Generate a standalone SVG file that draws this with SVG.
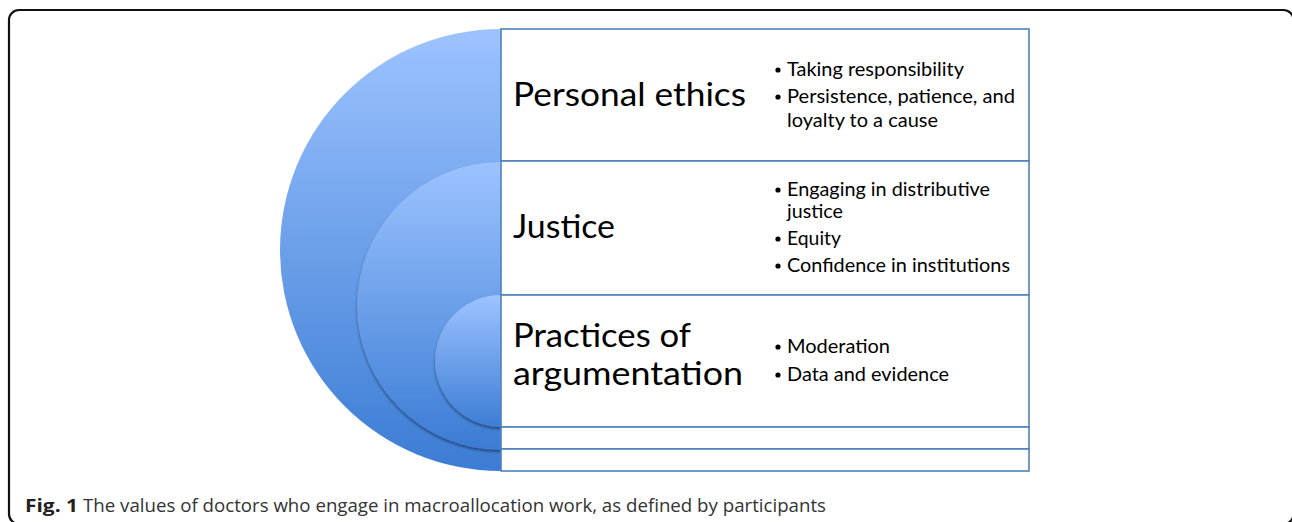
<svg xmlns="http://www.w3.org/2000/svg" width="1292" height="522" viewBox="0 0 1292 522">
<defs>
<linearGradient id="gOuter" x1="0" y1="0" x2="0" y2="1">
<stop offset="0" stop-color="#9dc3ff"/>
<stop offset="1" stop-color="#3b7cd4"/>
</linearGradient>
<linearGradient id="gMid" x1="0" y1="0" x2="0" y2="1">
<stop offset="0" stop-color="#9dc3ff"/>
<stop offset="1" stop-color="#3b7cd4"/>
</linearGradient>
<linearGradient id="gIn" x1="0" y1="0" x2="0" y2="1">
<stop offset="0" stop-color="#9dc3ff"/>
<stop offset="1" stop-color="#3d7dd5"/>
</linearGradient>
<filter id="sh" x="-20%" y="-20%" width="140%" height="140%">
<feGaussianBlur in="SourceAlpha" stdDeviation="1.5"/>
<feOffset dx="0" dy="1.5" result="b"/>
<feComponentTransfer><feFuncA type="linear" slope="0.45"/></feComponentTransfer>
<feMerge><feMergeNode/><feMergeNode in="SourceGraphic"/></feMerge>
</filter>
</defs>
<style>
.frame{fill:none;stroke:#111;stroke-width:2.2}
.box{fill:#fff;stroke:#4f81bd;stroke-width:1.6}
.big{font-family:Lato,"Liberation Sans",sans-serif;font-size:32px;fill:#000}
.bul{font-family:Lato,"Liberation Sans",sans-serif;font-size:19px;fill:#000}
.cap{font-family:"Open Sans","Liberation Sans",sans-serif;font-size:18px;fill:#333}
.capb{font-family:"Open Sans","Liberation Sans",sans-serif;font-size:18px;font-weight:bold;fill:#222}
.dot{fill:#000}
</style>
<rect class="frame" x="9" y="10" width="1284.5" height="514" rx="10"/>

<g id="circle-outer"><path d="M501,29 A221,221 0 0 0 501,471 Z" fill="url(#gOuter)"/></g>
<g id="circle-middle"><path d="M501,162 A144,144 0 0 0 501,450 Z" fill="url(#gMid)" filter="url(#sh)"/></g>
<g id="circle-inner"><path d="M501,295 A66,66 0 0 0 501,427 Z" fill="url(#gIn)" filter="url(#sh)"/></g>

<g id="connectors"/>

<g id="box-personal-ethics">
<rect class="box" x="501" y="29" width="528" height="132"/>
<text class="big" x="513" y="106" textLength="233" lengthAdjust="spacingAndGlyphs">Personal ethics</text>
<circle class="dot" cx="778" cy="70" r="2.6"/>
<text class="bul" x="787" y="76" textLength="177" lengthAdjust="spacingAndGlyphs">Taking responsibility</text>
<circle class="dot" cx="778" cy="97" r="2.6"/>
<text class="bul" x="787" y="103" textLength="228" lengthAdjust="spacingAndGlyphs">Persistence, patience, and</text>
<text class="bul" x="787" y="127" textLength="151" lengthAdjust="spacingAndGlyphs">loyalty to a cause</text>
</g>

<g id="box-justice">
<rect class="box" x="501" y="161" width="528" height="134"/>
<text class="big" x="513" y="238" textLength="102" lengthAdjust="spacingAndGlyphs">Justice</text>
<circle class="dot" cx="778" cy="190" r="2.6"/>
<text class="bul" x="787" y="196" textLength="203" lengthAdjust="spacingAndGlyphs">Engaging in distributive</text>
<text class="bul" x="787" y="218" textLength="56" lengthAdjust="spacingAndGlyphs">justice</text>
<circle class="dot" cx="778" cy="239" r="2.6"/>
<text class="bul" x="787" y="245" textLength="54" lengthAdjust="spacingAndGlyphs">Equity</text>
<circle class="dot" cx="778" cy="266" r="2.6"/>
<text class="bul" x="787" y="272" textLength="223" lengthAdjust="spacingAndGlyphs">Confidence in institutions</text>
</g>

<g id="box-practices">
<rect class="box" x="501" y="295" width="528" height="132"/>
<text class="big" x="513" y="347" textLength="178" lengthAdjust="spacingAndGlyphs">Practices of</text>
<text class="big" x="513" y="385" textLength="230" lengthAdjust="spacingAndGlyphs">argumentation</text>
<circle class="dot" cx="778" cy="347" r="2.6"/>
<text class="bul" x="787" y="353" textLength="103" lengthAdjust="spacingAndGlyphs">Moderation</text>
<circle class="dot" cx="778" cy="375" r="2.6"/>
<text class="bul" x="787" y="381" textLength="162" lengthAdjust="spacingAndGlyphs">Data and evidence</text>
</g>

<g id="box-empty-1"><rect class="box" x="501" y="427" width="528" height="22"/></g>
<g id="box-empty-2"><rect class="box" x="501" y="449" width="528" height="22"/></g>

<g id="caption">
<text class="capb" x="25" y="512" textLength="53" lengthAdjust="spacingAndGlyphs">Fig. 1</text>
<text class="cap" x="83" y="512" textLength="743" lengthAdjust="spacingAndGlyphs">The values of doctors who engage in macroallocation work, as defined by participants</text>
</g>
</svg>
